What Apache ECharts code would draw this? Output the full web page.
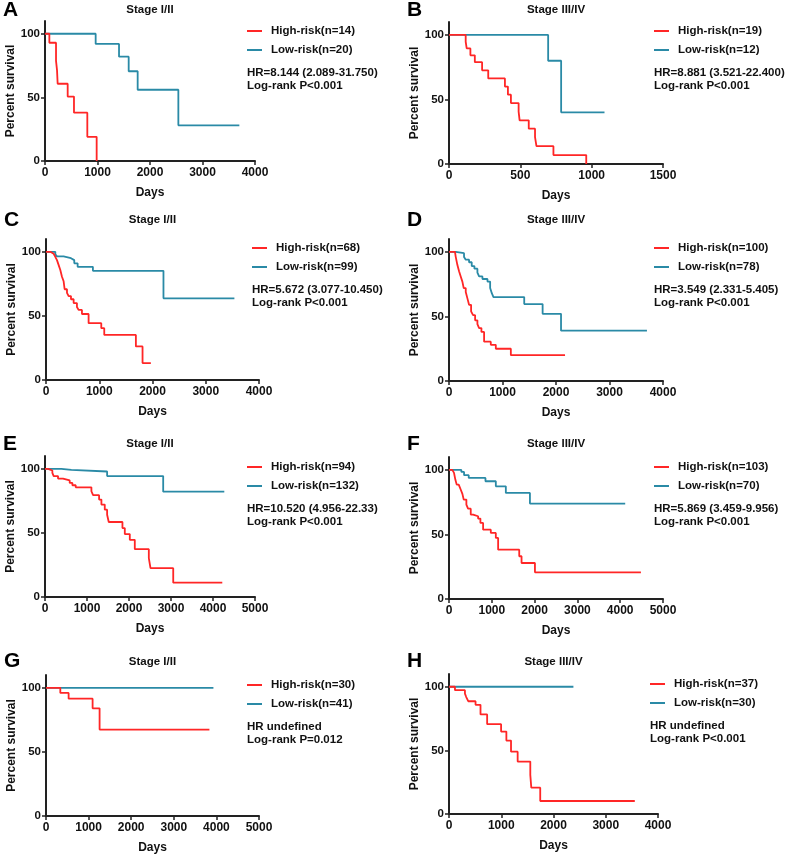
<!DOCTYPE html>
<html>
<head>
<meta charset="utf-8">
<script src="https://cdn.jsdelivr.net/npm/echarts@6/dist/echarts.min.js"></script>
<style>
  html, body { margin: 0; padding: 0; background: #fff; }
  #main { width: 790px; height: 855px; }
</style>
</head>
<body>
<div id="main"></div>
<script>
// survival curves, [day, percent survival after the step]
const highA = [[0,100],[83,92.9],[210,78.6],[229,71.4],[241,60.7],[432,50.6],[552,38],[806,19],[984,0]]
const lowA = [[0,100],[965,92],[1410,82],[1594,70.5],[1765,56],[2540,28],[3702,28]]

const highB = [[0,100],[117,94.7],[124,89.5],[150,84.2],[181,78.9],[232,72.6],[275,66.3],[392,60],[413,53.7],[434,47.2],[488,40.5],[495,33.8],[559,27.4],[603,20.8],[613,13.8],[732,6.9],[962,0]]
const lowB = [[0,100],[695,80],[786,40],[1090,40]]

const highC = [[0,100],[81,98.5],[144,98],[175,96],[206,93.5],[238,89.6],[269,85.8],[300,80.6],[331,77],[350,70.8],[394,68],[425,65.5],[469,63],[519,60],[581,57],[612,54.7],[675,51.5],[800,44.3],[1038,40.4],[1094,35.2],[1688,26.2],[1813,13.2],[1969,13.2]]
const lowC = [[0,100],[175,98],[206,96.4],[331,95],[469,93.5],[531,91],[594,88.3],[881,85.2],[2206,63.7],[3538,63.7]]

const highD = [[0,100],[112,98.5],[125,96.4],[156,90],[188,85],[219,81],[250,77],[275,72],[313,69],[344,64],[375,59],[413,54],[450,51],[488,47],[531,44],[563,41],[606,38],[656,30.5],[781,28],[875,25],[1156,20],[2169,20]]
const lowD = [[0,100],[125,99],[281,96],[313,94],[375,92],[425,89],[475,87],[531,84],[563,81],[625,79],[719,77],[769,72],[800,68],[831,65],[1406,59.6],[1750,52],[2094,39],[3700,39]]

const highE = [[0,100],[72,99.5],[111,98.7],[175,96.9],[207,94.3],[310,92.4],[429,90.9],[588,89],[652,87.2],[731,85.6],[1105,82.5],[1145,79.4],[1288,76],[1343,72.1],[1423,68.1],[1479,64.2],[1518,58.5],[1844,53.8],[1900,49.1],[2019,44.6],[2138,37.3],[2472,30.3],[2512,22.5],[3053,11.2],[4221,11.2]]
const lowE = [[0,100],[390,99.2],[628,97.9],[1479,94.3],[2814,82.2],[4269,82.2]]

const highF = [[0,100],[78,99],[117,97.7],[148,92.5],[180,88.6],[227,87.1],[273,84.8],[313,81.4],[344,77],[406,73.1],[445,70],[508,65.4],[563,64.1],[680,62.3],[734,58.9],[797,53.7],[977,51.2],[1094,47.3],[1148,38.2],[1641,33.1],[1695,27.9],[2008,20.7],[4484,20.7]]
const lowF = [[0,100],[289,98.4],[352,95.9],[461,93.8],[852,91.2],[1094,87.3],[1328,82.2],[1891,73.9],[4117,73.9]]

const highG = [[0,100],[336,96],[531,91.5],[1094,84],[1258,67.4],[3836,67.4]]
const lowG = [[0,100],[3930,100]]

const highH = [[0,100],[114,97.3],[305,94.6],[330,91.9],[368,88.6],[508,85.8],[603,78.2],[730,70.6],[997,64.8],[1098,57.7],[1187,49],[1314,41.2],[1556,30.7],[1575,20.7],[1746,10.2],[3556,10.2]]
const lowH = [[0,100],[2381,100]]

const letters = ['A','B','C','D','E','F','G','H']
const stages = ['Stage I/II','Stage III/IV','Stage I/II','Stage III/IV','Stage I/II','Stage III/IV','Stage I/II','Stage III/IV']
const highNames = ['High-risk(n=14)','High-risk(n=19)','High-risk(n=68)','High-risk(n=100)','High-risk(n=94)','High-risk(n=103)','High-risk(n=30)','High-risk(n=37)']
const lowNames = ['Low-risk(n=20)','Low-risk(n=12)','Low-risk(n=99)','Low-risk(n=78)','Low-risk(n=132)','Low-risk(n=70)','Low-risk(n=41)','Low-risk(n=30)']
const hrTexts = ['HR=8.144 (2.089-31.750)','HR=8.881 (3.521-22.400)','HR=5.672 (3.077-10.450)','HR=3.549 (2.331-5.405)','HR=10.520 (4.956-22.33)','HR=5.869 (3.459-9.956)','HR undefined','HR undefined']
const pTexts = ['Log-rank P<0.001','Log-rank P<0.001','Log-rank P<0.001','Log-rank P<0.001','Log-rank P<0.001','Log-rank P<0.001','Log-rank P=0.012','Log-rank P<0.001']
const xMax = [4000,1500,4000,4000,5000,5000,5000,4000]
const xStep = [1000,500,1000,1000,1000,1000,1000,1000]
const yTicks = [0,50,100]
const highData = [highA,highB,highC,highD,highE,highF,highG,highH]
const lowData = [lowA,lowB,lowC,lowD,lowE,lowF,lowG,lowH]

// layout (pixels): grid left/top/width/height, title y, legend pos
const grids = [
    {left:45, top:21, width:210, height:140},
    {left:449, top:22, width:214, height:142},
    {left:46, top:239, width:213, height:141},
    {left:449, top:239, width:214, height:142},
    {left:45, top:456, width:210, height:141},
    {left:449, top:457, width:214, height:142},
    {left:46, top:675, width:213, height:142},
    {left:449, top:674, width:209, height:140}
]
const titleY = [10,10,220,220,444,444,662,662]
const letterY = [11,11,221,221,445,445,662,662]
const legendPos = [
    {x:247, y:31}, {x:654, y:31},
    {x:252, y:248}, {x:654, y:248},
    {x:247, y:467}, {x:654, y:467},
    {x:247, y:685}, {x:650, y:684}
]

const RED = '#ff2626'
const BLUE = '#2a8aa6'
const FONT = '"Liberation Sans", Arial, sans-serif'

const chart = echarts.init(document.getElementById('main'), null, { renderer: 'canvas' })

let option = {
    animation: false,
    backgroundColor: '#fff',
    textStyle: { fontFamily: FONT },
    grid: [], xAxis: [], yAxis: [], series: [], legend: [], graphic: []
}

letters.forEach((L, i) => {
    const g = grids[i]
    option.grid.push({ left: g.left, top: g.top, width: g.width, height: g.height, containLabel: false })
    option.xAxis.push({
        gridIndex: i, type: 'value', min: 0, max: xMax[i], interval: xStep[i],
        name: 'Days', nameLocation: 'middle', nameGap: 26,
        nameTextStyle: { fontSize: 12, fontWeight: 'bold', color: '#111' },
        axisLine: { show: true, onZero: false, lineStyle: { color: '#222', width: 2 } },
        axisTick: { show: true, length: 4, lineStyle: { color: '#222', width: 1.5 } },
        axisLabel: { fontSize: 12, fontWeight: 'bold', color: '#111', margin: 6, formatter: v => String(v) },
        splitLine: { show: false }
    })
    option.yAxis.push({
        gridIndex: i, type: 'value', min: 0, max: 110,
        name: 'Percent survival', nameLocation: 'middle', nameGap: 27,
        nameTextStyle: { fontSize: 12, fontWeight: 'bold', color: '#111' },
        axisLine: { show: true, onZero: false, lineStyle: { color: '#222', width: 2 } },
        axisTick: { show: true, length: 4, customValues: yTicks, lineStyle: { color: '#222', width: 1.5 } },
        axisLabel: { fontSize: 11.5, fontWeight: 'bold', color: '#111', margin: 5, customValues: yTicks },
        splitLine: { show: false }
    })
    option.series.push({
        name: lowNames[i], type: 'line', step: 'end', symbol: 'none',
        xAxisIndex: i, yAxisIndex: i, data: lowData[i],
        lineStyle: { color: BLUE, width: 1.8 }, itemStyle: { color: BLUE }
    })
    option.series.push({
        name: highNames[i], type: 'line', step: 'end', symbol: 'none',
        xAxisIndex: i, yAxisIndex: i, data: highData[i],
        lineStyle: { color: RED, width: 1.8 }, itemStyle: { color: RED }
    })
    const lp = legendPos[i]
    option.legend.push({
        data: [highNames[i], lowNames[i]], orient: 'vertical',
        left: lp.x, top: lp.y - 7, itemGap: 5, itemWidth: 15, itemHeight: 2,
        icon: 'rect', selectedMode: false, padding: 0,
        textStyle: { fontSize: 11.5, fontWeight: 'bold', color: '#111', lineHeight: 14, padding: [0,0,0,4] }
    })
    // panel letter, subtitle, HR / p-value text
    option.graphic.push({
        type: 'text', left: g.left - 42, top: letterY[i] - 11,
        style: { text: L, font: 'bold 21px ' + FONT, fill: '#000' }
    })
    option.graphic.push({
        type: 'text', x: g.left + g.width / 2, y: titleY[i],
        style: { text: stages[i], font: 'bold 11.5px ' + FONT, fill: '#111', align: 'center', verticalAlign: 'middle' }
    })
    option.graphic.push({
        type: 'text', x: lp.x, y: lp.y + 42,
        style: { text: hrTexts[i], font: 'bold 11.5px ' + FONT, fill: '#111', verticalAlign: 'middle' }
    })
    option.graphic.push({
        type: 'text', x: lp.x, y: lp.y + 55,
        style: { text: pTexts[i], font: 'bold 11.5px ' + FONT, fill: '#111', verticalAlign: 'middle' }
    })
})

chart.setOption(option)
</script>
</body>
</html>
